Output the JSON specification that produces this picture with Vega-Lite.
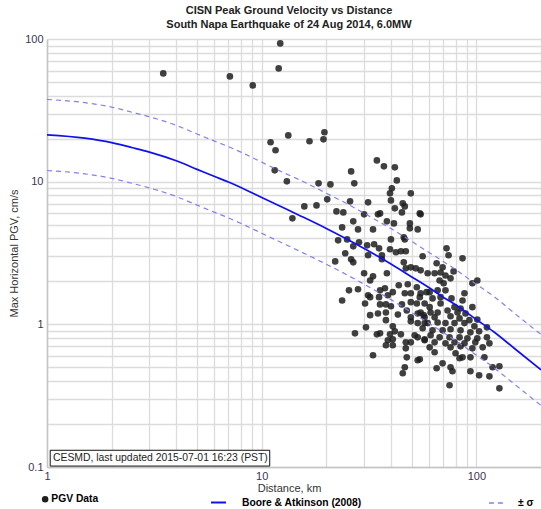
{
"$schema":"https://vega.github.io/schema/vega-lite/v6.json",
"width":494,"height":428,
"autosize":"none",
"padding":{"left":47,"top":39,"right":0,"bottom":42},
"background":"white",
"config":{"font":"Liberation Sans","view":{"stroke":null},
 "axis":{"gridColor":"#dcdcdc","gridWidth":1.3,"domainColor":"#c4c4c4","domainWidth":1.5,"ticks":false,"labelFontSize":11,"labelColor":"#3d3355","titleFontSize":11,"titleFontWeight":"normal","titleColor":"#333333","labelFont":"Liberation Sans","titleFont":"Liberation Sans"},
 "legend":{"labelFont":"Liberation Sans","labelFontSize":10.3,"labelFontWeight":"bold","labelColor":"#000000","padding":0}},
"title":{"text":["CISN Peak Ground Velocity vs Distance","South Napa Earthquake of 24 Aug 2014, 6.0MW"],"fontSize":11,"fontWeight":"bold","color":"#222222","lineHeight":14,"offset":3,"anchor":"middle","frame":"group","dx":-5,"font":"Liberation Sans"},
"datasets":{
"pts":[{"d":3.48,"v":57.4},{"d":7.11,"v":54.7},{"d":9.09,"v":47.3},{"d":12.2,"v":93.1},{"d":12.0,"v":62.2},
{"d":11.0,"v":18.9},{"d":11.6,"v":16.6},{"d":13.3,"v":21.1},{"d":16.7,"v":19.2},{"d":19.6,"v":22.2},{"d":19.4,"v":19.8},{"d":11.5,"v":12.0},{"d":13.1,"v":10.05},{"d":13.9,"v":5.53},{"d":15.8,"v":6.71},{"d":18.0,"v":6.82},{"d":18.4,"v":9.73},{"d":20.9,"v":9.57},{"d":20.2,"v":7.52},{"d":22.3,"v":6.19},{"d":24.0,"v":6.09},{"d":25.8,"v":7.28},{"d":26.1,"v":11.8},{"d":27.0,"v":9.73},{"d":26.7,"v":5.27},{"d":23.7,"v":4.78},{"d":22.7,"v":3.88},{"d":25.0,"v":3.94},{"d":26.7,"v":3.52},{"d":24.5,"v":3.15},{"d":26.1,"v":2.86},{"d":22.0,"v":2.76},{"d":28.1,"v":4.63},{"d":28.4,"v":3.76},{"d":30.0,"v":5.90},{"d":31.3,"v":7.16},{"d":33.0,"v":4.63},{"d":31.0,"v":3.58},{"d":31.3,"v":3.05},{"d":33.4,"v":3.64},{"d":34.4,"v":14.1},{"d":37.1,"v":12.8},{"d":41.7,"v":12.6},{"d":40.4,"v":8.98},{"d":39.6,"v":8.28},{"d":42.6,"v":10.2},{"d":40.0,"v":7.39},{"d":41.7,"v":6.50},{"d":34.8,"v":5.90},{"d":35.6,"v":5.99},{"d":38.3,"v":5.27},{"d":41.3,"v":5.10},{"d":40.0,"v":3.94},{"d":35.2,"v":3.41},{"d":39.6,"v":3.36},{"d":42.2,"v":3.20},{"d":36.3,"v":3.05},{"d":36.3,"v":2.86},
{"d":49.5,"v":8.28},{"d":45.4,"v":7.05},{"d":46.4,"v":6.71},{"d":45.0,"v":6.09},{"d":54.5,"v":5.99},{"d":55.0,"v":5.90},{"d":49.0,"v":5.10},{"d":49.0,"v":4.71},{"d":53.3,"v":4.63},{"d":45.9,"v":4.07},{"d":46.4,"v":3.94},{"d":44.5,"v":3.25},{"d":46.9,"v":3.25},
{"d":26.7,"v":2.72},{"d":30.0,"v":2.28},{"d":33.0,"v":2.17},{"d":32.0,"v":2.03},{"d":38.3,"v":2.28},{"d":45.9,"v":2.72},{"d":46.9,"v":2.47},{"d":49.5,"v":2.51},{"d":52.2,"v":2.47},{"d":55.0,"v":2.39},{"d":25.5,"v":1.73},{"d":28.1,"v":1.76},{"d":23.7,"v":1.47},{"d":31.3,"v":1.60},{"d":32.0,"v":1.55},{"d":30.3,"v":1.40},{"d":35.6,"v":1.73},{"d":37.5,"v":1.79},{"d":35.2,"v":1.55},{"d":38.7,"v":1.60},{"d":40.8,"v":1.68},{"d":43.5,"v":1.88},{"d":47.9,"v":1.91},{"d":46.4,"v":1.65},{"d":49.5,"v":1.65},{"d":52.8,"v":1.82},{"d":54.5,"v":1.55},{"d":58.6,"v":1.68},{"d":35.6,"v":1.38},{"d":37.9,"v":1.38},{"d":40.0,"v":1.34},{"d":45.0,"v":1.38},{"d":49.5,"v":1.43},{"d":52.8,"v":1.40},{"d":57.4,"v":1.40},{"d":32.0,"v":1.16},{"d":34.8,"v":1.19},{"d":37.9,"v":1.21},{"d":43.1,"v":1.17},{"d":47.4,"v":1.25},{"d":49.5,"v":1.12},{"d":53.3,"v":1.19},{"d":56.8,"v":1.16},{"d":37.9,"v":1.07},{"d":49.5,"v":1.05},{"d":57.4,"v":1.02},{"d":30.6,"v":0.953},{"d":40.8,"v":0.968},{"d":27.2,"v":0.865},{"d":34.4,"v":0.851},{"d":35.6,"v":0.865},{"d":39.6,"v":0.851},{"d":41.7,"v":0.893},{"d":44.5,"v":0.851},{"d":51.6,"v":0.838},{"d":53.3,"v":0.811},{"d":57.4,"v":0.785},{"d":38.7,"v":0.773},{"d":40.8,"v":0.785},{"d":46.9,"v":0.748},{"d":49.5,"v":0.748},{"d":37.9,"v":0.713},{"d":40.8,"v":0.713},{"d":46.9,"v":0.679},{"d":33.0,"v":0.607},{"d":47.4,"v":0.587},{"d":53.3,"v":0.560},{"d":46.4,"v":0.500},{"d":45.4,"v":0.454},
{"d":72.6,"v":3.41},{"d":74.2,"v":3.05},{"d":56.2,"v":3.00},{"d":86.2,"v":2.90},{"d":65.3,"v":2.68},{"d":69.6,"v":2.51},{"d":68.1,"v":2.31},{"d":63.9,"v":2.28},{"d":59.3,"v":2.28},{"d":71.8,"v":2.20},{"d":78.3,"v":2.35},{"d":75.8,"v":2.10},{"d":67.4,"v":2.03},{"d":101,"v":2.03},{"d":95.8,"v":1.94},{"d":70.4,"v":1.94},{"d":55.0,"v":1.65},{"d":60.6,"v":1.68},{"d":66.0,"v":1.73},{"d":71.8,"v":1.73},{"d":88.0,"v":1.65},{"d":62.5,"v":1.52},{"d":68.1,"v":1.55},{"d":76.6,"v":1.52},{"d":86.2,"v":1.47},{"d":60.6,"v":1.32},{"d":68.1,"v":1.40},{"d":79.1,"v":1.32},{"d":84.4,"v":1.29},{"d":95.8,"v":1.32},{"d":55.0,"v":1.21},{"d":61.2,"v":1.21},{"d":66.0,"v":1.21},{"d":73.4,"v":1.25},{"d":81.7,"v":1.21},{"d":89.0,"v":1.19},{"d":57.4,"v":1.12},{"d":63.9,"v":1.12},{"d":75.8,"v":1.14},{"d":83.5,"v":1.10},{"d":92.8,"v":1.07},{"d":101,"v":1.08},{"d":53.3,"v":1.02},{"d":59.3,"v":1.02},{"d":66.0,"v":1.03},{"d":71.8,"v":1.02},{"d":79.1,"v":1.02},{"d":88.0,"v":1.02},{"d":97.9,"v":0.968},{"d":112,"v":0.953},{"d":56.2,"v":0.938},{"d":62.5,"v":0.908},{"d":69.6,"v":0.908},{"d":75.8,"v":0.923},{"d":84.4,"v":0.908},{"d":93.8,"v":0.879},{"d":103,"v":0.893},{"d":61.2,"v":0.838},{"d":67.4,"v":0.811},{"d":75.0,"v":0.811},{"d":83.5,"v":0.811},{"d":90.8,"v":0.798},{"d":101,"v":0.798},{"d":112,"v":0.811},{"d":57.4,"v":0.773},{"d":63.9,"v":0.748},{"d":71.8,"v":0.736},{"d":79.1,"v":0.748},{"d":88.0,"v":0.736},{"d":98.9,"v":0.748},{"d":115,"v":0.736},{"d":60.6,"v":0.690},{"d":75.8,"v":0.690},{"d":84.4,"v":0.701},{"d":95.8,"v":0.679},{"d":107,"v":0.690},{"d":63.9,"v":0.637},{"d":80.0,"v":0.627},{"d":86.2,"v":0.587},{"d":93.8,"v":0.587},{"d":109,"v":0.587},{"d":54.5,"v":0.569},{"d":83.5,"v":0.578},{"d":69.6,"v":0.533},{"d":65.3,"v":0.492},{"d":75.8,"v":0.500},{"d":119,"v":0.500},{"d":128,"v":0.508},{"d":93.8,"v":0.469},{"d":77.4,"v":0.469},{"d":103,"v":0.439},{"d":115,"v":0.432},{"d":75.0,"v":0.374},{"d":128,"v":0.356}],
"median":[{"d":1,"v":21.3},{"d":1.5,"v":20.2},{"d":2,"v":18.8},{"d":2.5,"v":17.3},{"d":3,"v":16.1},{"d":4,"v":14.0},{"d":5,"v":12.2},{"d":6,"v":10.9},{"d":7,"v":9.95},{"d":8,"v":9.1},{"d":10,"v":7.75},{"d":12,"v":6.8},{"d":15,"v":5.8},{"d":20,"v":4.7},{"d":25,"v":3.95},{"d":30,"v":3.4},{"d":40,"v":2.65},{"d":50,"v":2.15},{"d":60,"v":1.81},{"d":70,"v":1.55},{"d":80,"v":1.37},{"d":100,"v":1.08},{"d":120,"v":0.89},{"d":150,"v":0.68},{"d":200,"v":0.48}],
"sigma":[{"d":1,"v":37.7,"b":"u"},{"d":1.5,"v":35.8,"b":"u"},{"d":2,"v":33.3,"b":"u"},{"d":2.5,"v":30.6,"b":"u"},{"d":3,"v":28.5,"b":"u"},{"d":4,"v":24.8,"b":"u"},{"d":5,"v":21.6,"b":"u"},{"d":6,"v":19.3,"b":"u"},{"d":7,"v":17.6,"b":"u"},{"d":8,"v":16.1,"b":"u"},{"d":10,"v":13.7,"b":"u"},{"d":12,"v":12.0,"b":"u"},{"d":15,"v":10.3,"b":"u"},{"d":20,"v":8.3,"b":"u"},{"d":25,"v":7.0,"b":"u"},{"d":30,"v":6.0,"b":"u"},{"d":40,"v":4.69,"b":"u"},{"d":50,"v":3.81,"b":"u"},{"d":60,"v":3.2,"b":"u"},{"d":70,"v":2.76,"b":"u"},{"d":80,"v":2.42,"b":"u"},{"d":100,"v":1.91,"b":"u"},{"d":120,"v":1.58,"b":"u"},{"d":150,"v":1.2,"b":"u"},{"d":200,"v":0.85,"b":"u"},
{"d":1,"v":11.97,"b":"l"},{"d":1.5,"v":11.35,"b":"l"},{"d":2,"v":10.56,"b":"l"},{"d":2.5,"v":9.72,"b":"l"},{"d":3,"v":9.04,"b":"l"},{"d":4,"v":7.87,"b":"l"},{"d":5,"v":6.85,"b":"l"},{"d":6,"v":6.12,"b":"l"},{"d":7,"v":5.58,"b":"l"},{"d":8,"v":5.1,"b":"l"},{"d":10,"v":4.35,"b":"l"},{"d":12,"v":3.82,"b":"l"},{"d":15,"v":3.26,"b":"l"},{"d":20,"v":2.64,"b":"l"},{"d":25,"v":2.22,"b":"l"},{"d":30,"v":1.91,"b":"l"},{"d":40,"v":1.49,"b":"l"},{"d":50,"v":1.21,"b":"l"},{"d":60,"v":1.02,"b":"l"},{"d":70,"v":0.876,"b":"l"},{"d":80,"v":0.77,"b":"l"},{"d":100,"v":0.607,"b":"l"},{"d":120,"v":0.5,"b":"l"},{"d":150,"v":0.382,"b":"l"},{"d":200,"v":0.27,"b":"l"}],
"note":[{"x1":1.035,"x2":10.9,"y1":0.1015,"y2":0.131,"tx":1.066,"ty":0.1155,"label":"CESMD, last updated 2015-07-01 16:23 (PST)"}]
},
"encoding":{
 "x":{"field":"d","type":"quantitative","scale":{"type":"log","domain":[1,200],"nice":false},
  "axis":{"title":"Distance, km","values":[1,2,3,4,5,6,7,8,9,10,20,30,40,50,60,70,80,90,100,200],"labelExpr":"indexof([1,10,100], datum.value) >= 0 ? toString(datum.value) : ''","labelPadding":3,"titlePadding":1,"labelFlush":false,"labelOverlap":false,"titleX":242}},
 "y":{"field":"v","type":"quantitative","scale":{"type":"log","domain":[0.1,100],"nice":false},
  "axis":{"title":"Max Horizontal PGV, cm/s","values":[0.1,0.2,0.3,0.4,0.5,0.6,0.7,0.8,0.9,1,2,3,4,5,6,7,8,9,10,20,30,40,50,60,70,80,90,100],"labelExpr":"indexof([0.1,1,10,100], datum.value) >= 0 ? toString(datum.value) : ''","labelPadding":4,"titlePadding":5,"labelOverlap":false}}
},
"layer":[
 {"data":{"name":"pts"},"mark":{"type":"circle","size":44,"opacity":0.85,"strokeWidth":0},
  "encoding":{"fill":{"datum":"PGV Data","scale":{"range":["#1e1e1e"]},"legend":{"orient":"none","legendX":-7,"legendY":455,"title":null,"symbolType":"circle","symbolSize":42,"symbolOpacity":1,"labelOffset":1}}}},
 {"data":{"name":"sigma"},"mark":{"type":"line","color":"#8080f0","strokeWidth":1.2,"interpolate":"monotone"},
  "encoding":{"detail":{"field":"b"},"strokeDash":{"datum":"± σ","scale":{"range":[[5,4]]},"legend":{"orient":"none","legendX":441,"legendY":455,"title":null,"symbolType":"stroke","symbolSize":260,"symbolStrokeWidth":1.3,"symbolStrokeColor":"#8080f0","labelOffset":12}}}},
 {"data":{"name":"median"},"mark":{"type":"line","strokeWidth":1.7,"interpolate":"monotone"},
  "encoding":{"stroke":{"datum":"Boore & Atkinson (2008)","scale":{"range":["#1010f0"]},"legend":{"orient":"none","legendX":163,"legendY":455,"title":null,"symbolType":"stroke","symbolSize":225,"symbolStrokeWidth":2,"labelOffset":15}}}},
 {"data":{"name":"note"},"mark":{"type":"rect","fill":"white","stroke":"#111111","strokeWidth":1},
  "encoding":{"x":{"field":"x1","type":"quantitative","scale":{"type":"log"}},"x2":{"field":"x2"},"y":{"field":"y1","type":"quantitative","scale":{"type":"log"}},"y2":{"field":"y2"}}},
 {"data":{"name":"note"},"mark":{"type":"text","align":"left","baseline":"middle","fontSize":10.4,"color":"#222222","font":"Liberation Sans"},
  "encoding":{"x":{"field":"tx","type":"quantitative","scale":{"type":"log"}},"y":{"field":"ty","type":"quantitative","scale":{"type":"log"}},"text":{"field":"label"}}}
]
}
